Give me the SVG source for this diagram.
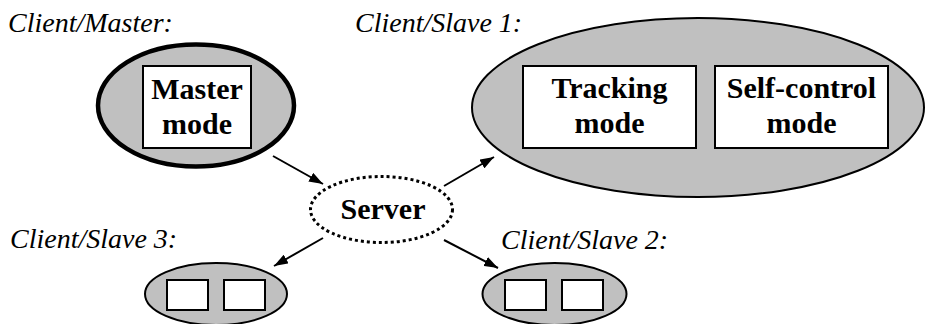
<svg xmlns="http://www.w3.org/2000/svg" width="926" height="324" viewBox="0 0 926 324">
<defs>
<marker id="ah" viewBox="0 0 14 10" refX="14" refY="5" markerWidth="14" markerHeight="10" markerUnits="userSpaceOnUse" orient="auto">
<path d="M0,0 L14,5 L0,10 Z" fill="#000"/>
</marker>
</defs>
<rect width="926" height="324" fill="#fff"/>
<g id="connectors" stroke="#000" stroke-width="2" fill="none" marker-end="url(#ah)">
<line x1="273" y1="156" x2="323" y2="184"/>
<line x1="444" y1="186" x2="494" y2="157"/>
<line x1="323" y1="238" x2="274" y2="266"/>
<line x1="444" y1="240" x2="498" y2="268"/>
</g>
<g id="master">
<text font-family="Times New Roman" font-style="italic" font-size="28" x="8" y="32">Client/Master:</text>
<ellipse cx="196" cy="105.5" rx="98" ry="61" fill="#c0c0c0" stroke="#000" stroke-width="4.5"/>
<rect x="143" y="66" width="108" height="82" fill="#fff" stroke="#000" stroke-width="2"/>
<text font-family="Times New Roman" font-weight="bold" font-size="30" text-anchor="middle" x="197" y="99">Master</text>
<text font-family="Times New Roman" font-weight="bold" font-size="30" text-anchor="middle" x="197" y="134">mode</text>
</g>
<g id="slave1">
<text font-family="Times New Roman" font-style="italic" font-size="28" x="355" y="32">Client/Slave 1:</text>
<ellipse cx="698" cy="107.5" rx="226" ry="89.5" fill="#c0c0c0" stroke="#000" stroke-width="2"/>
<rect x="523" y="66" width="173" height="82" fill="#fff" stroke="#000" stroke-width="2"/>
<text font-family="Times New Roman" font-weight="bold" font-size="30" text-anchor="middle" x="609.5" y="98">Tracking</text>
<text font-family="Times New Roman" font-weight="bold" font-size="30" text-anchor="middle" x="609.5" y="133">mode</text>
<rect x="715" y="66" width="173" height="82" fill="#fff" stroke="#000" stroke-width="2"/>
<text font-family="Times New Roman" font-weight="bold" font-size="30" text-anchor="middle" x="801.5" y="98">Self-control</text>
<text font-family="Times New Roman" font-weight="bold" font-size="30" text-anchor="middle" x="801.5" y="133">mode</text>
</g>
<g id="server">
<ellipse cx="381.5" cy="209.5" rx="71" ry="33" fill="#fff" stroke="#000" stroke-width="3" stroke-dasharray="3 3"/>
<text font-family="Times New Roman" font-weight="bold" font-size="30" text-anchor="middle" x="383" y="219">Server</text>
</g>
<g id="slave3">
<text font-family="Times New Roman" font-style="italic" font-size="28" x="10" y="248">Client/Slave 3:</text>
<ellipse cx="216" cy="294" rx="71" ry="31" fill="#c0c0c0" stroke="#000" stroke-width="2"/>
<rect x="167" y="280" width="41" height="30" fill="#fff" stroke="#000" stroke-width="2"/>
<rect x="224" y="280" width="41" height="30" fill="#fff" stroke="#000" stroke-width="2"/>
</g>
<g id="slave2">
<text font-family="Times New Roman" font-style="italic" font-size="28" x="501" y="249">Client/Slave 2:</text>
<ellipse cx="554.5" cy="294" rx="72" ry="31" fill="#c0c0c0" stroke="#000" stroke-width="2"/>
<rect x="505" y="280" width="41" height="30" fill="#fff" stroke="#000" stroke-width="2"/>
<rect x="562" y="280" width="41" height="30" fill="#fff" stroke="#000" stroke-width="2"/>
</g>
</svg>
